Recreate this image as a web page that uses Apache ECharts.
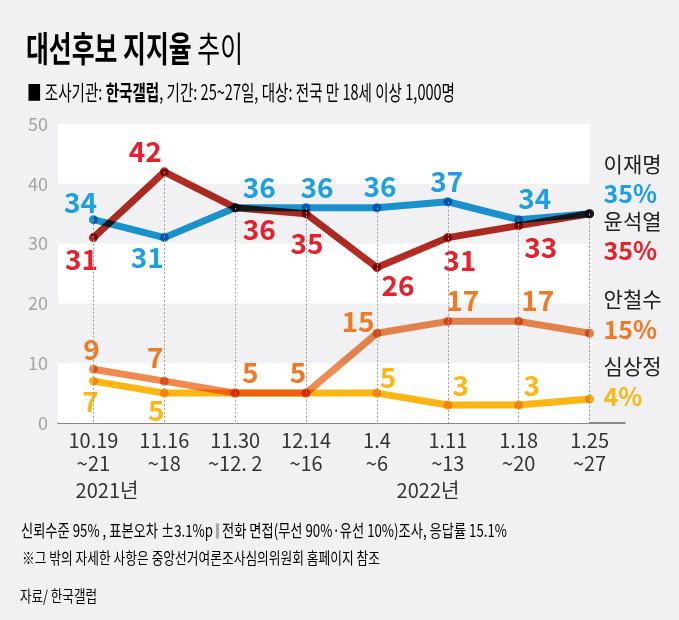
<!DOCTYPE html>
<html><head><meta charset="utf-8">
<script src="https://cdn.jsdelivr.net/npm/echarts@6/dist/echarts.min.js"></script>
<style>html,body{margin:0;padding:0;background:#f1f1f3;}#c{width:679px;height:620px;}</style>
</head><body><div id="c"></div>
<script>
// ---- data ----
const categories = ['10.19\n~21', '11.16\n~18', '11.30\n~12. 2', '12.14\n~16', '1.4\n~6', '1.11\n~13', '1.18\n~20', '1.25\n~27'];
const yTickMin = 0, yTickMax = 50, yTickStep = 10;
const leeJM  = [34, 31, 36, 36, 36, 37, 34, 35];
const yoonSY = [31, 42, 36, 35, 26, 31, 33, 35];
const ahnCS  = [9, 7, 5, 5, 15, 17, 17, 15];
const simSJ  = [7, 5, 5, 5, 5, 3, 3, 4];
const candidateNames = ['이재명', '윤석열', '안철수', '심상정'];
const yearLabels = ['2021년', '2022년'];
const bandRanges = [[0, 10], [20, 30], [40, 50]];
const titleMain = '대선후보 지지율', titleSub = '추이';
const footer1 = ['신뢰수준 95% , 표본오차 ±3.1%p ', ' ', ' 전화 면접(무선 90%·유선 10%)조사, 응답률 15.1%'];
const footer2 = '※그 밖의 자세한 사항은 중앙선거여론조사심의위원회 홈페이지 참조';
const footer3 = '자료/ 한국갤럽';

// ---- styles (label offsets etc.) ----
const FONT = '"Noto Sans CJK KR", "Noto Sans", sans-serif';
const labelOffsets = {
  lee:  [[-13,-17],[-17,20],[24,-20],[11,-20],[3,-21],[-1,-20],[16,-21],null],
  yoon: [[-12,22],[-19,-20],[24,22],[1,30],[21,18],[12,23],[22,22],null],
  ahn:  [[-2,-20],[-9,-24],[15,-21],[-8,-21],[-19,-12],[15,-21],[19,-21],null],
  sim:  [[-3,20],[-8,17],null,null,[11,-16],[13,-20],[13,-20],null]
};
const lineColors  = ['#1b98d6', '#b42c22', '#f08a4e', '#fcb614'];
const labelColors = ['#1e9fe2', '#e8202b', '#f07a24', '#fbb715'];
const endOffsets  = [[6,-35],[6,22],[6,-19],[6,-18]];

const chart = echarts.init(document.getElementById('c'), null, {renderer: 'canvas'});

function buildData(values, offs) {
  return values.map((v, i) => ({
    value: v,
    label: offs[i] ? {show: true, position: 'inside', offset: offs[i]} : {show: false}
  }));
}
function lineSeries(idx, values, offs) {
  const name = candidateNames[idx];
  return {
    name, type: 'line', data: buildData(values, offs),
    xAxisIndex: 0, yAxisIndex: 0,
    symbol: 'circle', symbolSize: 9,
    lineStyle: {color: lineColors[idx], width: 7},
    itemStyle: {color: lineColors[idx]},
    label: {color: labelColors[idx], fontSize: 28, fontWeight: 'bold', fontFamily: FONT},
    endLabel: {
      show: true, align: 'left', offset: endOffsets[idx],
      formatter: p => '{n|' + name + '}\n{v|' + p.value + '%}',
      rich: {
        n: {fontSize: 21, color: '#222', fontFamily: FONT, lineHeight: 30},
        v: {fontSize: 25, fontWeight: 'bold', color: labelColors[idx], fontFamily: FONT, lineHeight: 30}
      }
    },
    emphasis: {disabled: true}, silent: true, z: 3
  };
}

const allSeries = [leeJM, yoonSY, ahnCS, simSJ];
const tops = categories.map((c, i) => Math.max(...allSeries.map(s => s[i])));

// text measuring for condensed fitting
const mctx = document.createElement('canvas').getContext('2d');
function fontStr(size, bold) { return (bold ? 'bold ' : '') + size + 'px ' + FONT; }
function measure(parts, rich) {
  let w = 0;
  parts.forEach(p => {
    const r = rich[p.k];
    if (r.width) { w += r.width; return; }
    mctx.font = fontStr(r.fontSize, r.fontWeight === 'bold');
    w += mctx.measureText(p.text).width;
  });
  return w;
}

function fittedText(parts, rich, left, cy, targetW) {
  const s = targetW / measure(parts, rich);
  return {
    type: 'text', x: left, y: cy, scaleX: s, scaleY: 1, silent: true,
    style: {
      text: parts.map(p => '{' + p.k + '|' + p.text + '}').join(''),
      rich: rich, verticalAlign: 'middle', align: 'left', x: 0, y: 0
    }
  };
}

const titleRich = {
  b: {fontSize: 35, fontWeight: 'bold', color: '#222', fontFamily: FONT},
  l: {fontSize: 35, color: '#444', fontFamily: FONT}
};
const subRich = {
  s: {fontSize: 21, color: '#555', fontFamily: FONT},
  r: {fontSize: 21, color: '#333', fontFamily: FONT},
  b: {fontSize: 21, fontWeight: 'bold', color: '#222', fontFamily: FONT}
};
const f1Rich = {
  r: {fontSize: 17, color: '#555', fontFamily: FONT},
  bar: {width: 4, height: 15, backgroundColor: '#a8a8a8', fontSize: 17}
};
const f2Rich = { r: {fontSize: 16, color: '#333', fontFamily: FONT} };
const f3Rich = { r: {fontSize: 16, color: '#333', fontFamily: FONT} };

const graphics = [
  fittedText([{k:'b', text: titleMain + ' '}, {k:'l', text: titleSub}], titleRich, 26, 49, 217),
  fittedText([{k:'s', text:'■ '}, {k:'r', text:'조사기관: '}, {k:'b', text:'한국갤럽'}, {k:'r', text:', 기간: 25~27일, 대상: 전국 만 18세 이상 1,000명'}], subRich, 27, 92, 428),
  fittedText([{k:'r', text: footer1[0]}, {k:'bar', text: footer1[1]}, {k:'r', text: footer1[2]}], f1Rich, 21, 531, 486),
  fittedText([{k:'r', text: footer2}], f2Rich, 22, 558, 358),
  fittedText([{k:'r', text: footer3}], f3Rich, 20, 596, 77),
  {type: 'text', x: 107, y: 490, silent: true, style: {text: yearLabels[0], fontSize: 20, fontFamily: FONT, fill: '#333', align: 'center', verticalAlign: 'middle'}},
  {type: 'text', x: 428, y: 490, silent: true, style: {text: yearLabels[1], fontSize: 20, fontFamily: FONT, fill: '#333', align: 'center', verticalAlign: 'middle'}}
];

const option = {
  animation: false,
  backgroundColor: '#f1f1f3',
  grid: {left: 58, right: 54, top: 124, bottom: 197, containLabel: false},
  xAxis: [
    {type: 'category', data: categories, boundaryGap: true,
     axisLine: {lineStyle: {color: '#666', width: 1.5}}, axisTick: {show: false},
     axisLabel: {interval: 0, color: '#333', fontSize: 20, lineHeight: 23, margin: 6, fontFamily: FONT},
     splitLine: {show: false}},
    {type: 'value', min: -0.5, max: categories.length - 0.5, show: false, splitLine: {show: false}}
  ],
  yAxis: {type: 'value', min: yTickMin, max: yTickMax, interval: yTickStep,
    axisLine: {show: false}, axisTick: {show: false}, splitLine: {show: false},
    axisLabel: {color: '#a3a3a3', fontSize: 18, margin: 10, fontFamily: FONT}},
  graphic: graphics,
  series: [
    {type: 'line', xAxisIndex: 1, yAxisIndex: 0, data: [], silent: true, z: 1,
     markArea: {silent: true, itemStyle: {color: '#ffffff', opacity: 1},
       data: bandRanges.map(r => [{xAxis: -0.5, yAxis: r[0]}, {xAxis: categories.length - 1, yAxis: r[1]}])},
     markLine: {silent: true, symbol: ['none', 'none'], label: {show: false},
       lineStyle: {color: '#999', width: 1, type: [2, 2]},
       data: tops.map((t, i) => [{coord: [i, t]}, {coord: [i, 0]}])}
    },
    lineSeries(1, yoonSY, labelOffsets.yoon),
    lineSeries(0, leeJM, labelOffsets.lee),
    lineSeries(2, ahnCS, labelOffsets.ahn),
    lineSeries(3, simSJ, labelOffsets.sim)
  ]
};
chart.setOption(option);

function norm(c) { try { return echarts.color.stringify(echarts.color.parse(c), 'rgba'); } catch (e) { return String(c); } }
const blendSet = new Set(lineColors.map(norm));
function applyBlend() {
  const zr = chart.getZr();
  const list = zr.storage.getDisplayList(true);
  list.forEach(el => {
    const s = el.style;
    if (!s) return;
    const st = typeof s.stroke === 'string' ? norm(s.stroke) : null;
    const fi = typeof s.fill === 'string' ? norm(s.fill) : null;
    if ((st && blendSet.has(st)) || (fi && blendSet.has(fi))) {
      s.blend = 'multiply';
      el.markRedraw && el.markRedraw();
    }
  });
  zr.refreshImmediately();
}
applyBlend();
setTimeout(applyBlend, 50);
</script></body></html>
